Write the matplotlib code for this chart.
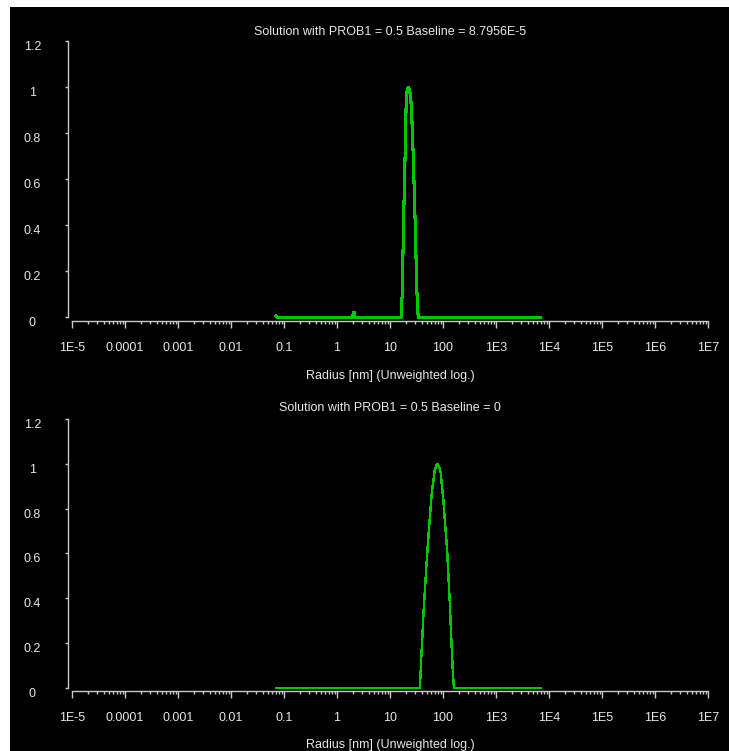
import numpy as np
import matplotlib
matplotlib.use("Agg")
import matplotlib.pyplot as plt
from matplotlib.ticker import LogLocator, FixedLocator, NullFormatter
from matplotlib.patches import Rectangle

plt.rcParams['font.family'] = ['Liberation Sans', 'DejaVu Sans']

# ---- data: size distributions (radius in nm, normalised intensity) ----
radius_a = [0.0706, 0.0745, 1.945, 2.03, 2.094, 2.213,
            16.12, 16.98, 17.74, 18.53, 19.35, 20.21, 21.12, 22.15,
            23.32, 24.58, 25.67, 26.81, 28.10, 29.61, 31.20, 32.72, 34.17,
            7000.0]
intensity_a = [0.006, 0.0, 0.0, 0.016, 0.023, 0.0,
               0.0, 0.10, 0.33, 0.54, 0.72, 0.94, 0.99, 1.00,
               0.99, 0.955, 0.88, 0.77, 0.62, 0.44, 0.23, 0.06, 0.0,
               0.0]

radius_b = [0.0706, 36.3, 37.4, 39.0, 41.0, 42.9, 45.4, 48.4, 51.4, 54.0,
            56.9, 59.8, 62.9, 66.2, 69.7, 73.8, 77.1, 80.5, 85.3, 90.4,
            95.7, 101.4, 107.4, 113.9, 120.7, 127.1, 133.7, 140.6, 147.9,
            155.6, 161.4, 7000.0]
intensity_b = [0.0, 0.0, 0.046, 0.14, 0.24, 0.34, 0.43, 0.54, 0.63, 0.70,
               0.77, 0.84, 0.89, 0.93, 0.97, 0.99, 1.00, 0.995, 0.985, 0.96,
               0.90, 0.84, 0.76, 0.68, 0.60, 0.49, 0.39, 0.27, 0.15,
               0.046, 0.0, 0.0]

titles = ["Solution with PROB1 = 0.5 Baseline = 8.7956E-5",
          "Solution with PROB1 = 0.5 Baseline = 0"]
xlabel = "Radius [nm] (Unweighted log.)"
x_ticks = [1e-5, 1e-4, 1e-3, 1e-2, 1e-1, 1, 10, 100, 1e3, 1e4, 1e5, 1e6, 1e7]
x_ticklabels = ["1E-5", "0.0001", "0.001", "0.01", "0.1", "1", "10", "100",
                "1E3", "1E4", "1E5", "1E6", "1E7"]
y_ticks = [0, 0.2, 0.4, 0.6, 0.8, 1.0, 1.2]
y_ticklabels = ["0", "0.2", "0.4", "0.6", "0.8", "1", "1.2"]

W, H = 729, 751
fig = plt.figure(figsize=(W / 100, H / 100), dpi=100, facecolor="black")

AX_COL = "#c8c8c8"
TXT_COL = "#e6e6e6"
LINE_COL = "#00c800"
FS = 9


def px_box(left, top, right, bottom):
    return [left / W, 1 - bottom / H, (right - left) / W, (bottom - top) / H]


def style_axes(ax, ymin):
    ax.set_facecolor("black")
    ax.set_xscale("log")
    ax.set_xlim(1e-5, 1e7)
    ax.set_ylim(ymin, 1.2)
    for s in ("top", "right"):
        ax.spines[s].set_visible(False)
    ax.spines["left"].set_color(AX_COL)
    ax.spines["bottom"].set_color(AX_COL)
    ax.spines["left"].set_position(("outward", 3))
    ax.spines["left"].set_bounds(0, 1.2)
    ax.spines["left"].set_linewidth(1.0)
    ax.spines["bottom"].set_linewidth(1.0)
    ax.xaxis.set_major_locator(FixedLocator(x_ticks))
    ax.set_xticklabels(x_ticklabels)
    ax.xaxis.set_minor_locator(LogLocator(base=10, subs=np.arange(2, 10), numticks=100))
    ax.xaxis.set_minor_formatter(NullFormatter())
    ax.set_yticks(y_ticks)
    ax.set_yticklabels(y_ticklabels)
    ax.tick_params(axis="x", which="major", direction="out", length=5, width=1,
                   color=AX_COL, labelcolor=TXT_COL, labelsize=FS, pad=10)
    ax.tick_params(axis="x", which="minor", direction="out", length=2, width=1,
                   color=AX_COL)
    ax.tick_params(axis="y", which="major", direction="out", length=2.5, width=1,
                   color=AX_COL, labelcolor=TXT_COL, labelsize=FS, pad=23)
    for lab in ax.get_yticklabels():
        lab.set_horizontalalignment("center")
        lab.set_verticalalignment("top")


ax1 = fig.add_axes(px_box(72, 41, 708, 321))
style_axes(ax1, -0.0152)
ax1.plot(radius_a, intensity_a, color=LINE_COL, lw=1.5, antialiased=False)

ax2 = fig.add_axes(px_box(72, 419, 708, 691))
style_axes(ax2, -0.0134)
ax2.plot(radius_b, intensity_b, color=LINE_COL, lw=1.0, antialiased=False)

cx = 390 / W
fig.text(cx, 1 - 32 / H, titles[0], ha="center", va="center", color=TXT_COL, fontsize=FS)
fig.text(cx, 1 - 376 / H, xlabel, ha="center", va="center", color=TXT_COL, fontsize=FS)
fig.text(cx, 1 - 408 / H, titles[1], ha="center", va="center", color=TXT_COL, fontsize=FS)
fig.text(cx, 1 - 745 / H, xlabel, ha="center", va="center", color=TXT_COL, fontsize=FS)

# white frame along the top and left edges of the window capture
fig.patches.append(Rectangle((0, 1 - 7 / H), 1, 7 / H, transform=fig.transFigure,
                             facecolor="white", edgecolor="none", zorder=10))
fig.patches.append(Rectangle((0, 0), 10 / W, 1, transform=fig.transFigure,
                             facecolor="white", edgecolor="none", zorder=10))

fig.savefig("out.png", dpi=100, facecolor="black")
